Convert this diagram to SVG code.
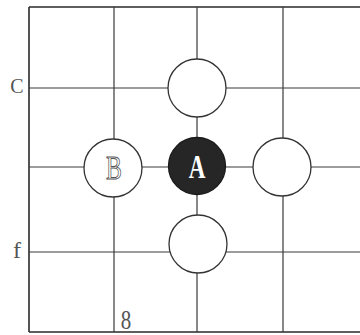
<svg xmlns="http://www.w3.org/2000/svg" width="360" height="335" viewBox="0 0 360 335">
<style>
.grid{stroke:#3a3a3a;stroke-width:1.2;fill:none}
.border{stroke:#2a2a2a;stroke-width:1.6;fill:none}
.stone{fill:#ffffff;stroke:#333;stroke-width:1.3}
.black{fill:#262626;stroke:#1a1a1a;stroke-width:1.3}
.lbl{font-family:"Liberation Serif","DejaVu Serif",serif;fill:#555;font-size:20px}
</style>
<rect width="360" height="335" fill="#ffffff"/>
<g id="connectors">
<path class="border" d="M29,7H360M29,7V332M29,332H360"/>
<path class="grid" d="M29,88H360M29,167H360M29,252H360M114,7V332M197,7V332M283,7V332"/>
</g>
<g id="node-top"><circle class="stone" cx="197" cy="88" r="29"/></g>
<g id="node-B"><circle class="stone" cx="113" cy="168" r="29"/>
<text x="114" y="179" text-anchor="middle" transform="translate(114 0) scale(0.7 1) translate(-114 0)" style="font-family:'Liberation Serif','DejaVu Serif',serif;font-size:34px;fill:#fff;stroke:#555;stroke-width:1">B</text></g>
<g id="node-A"><circle class="black" cx="197" cy="166" r="28.5"/>
<text x="197" y="178" text-anchor="middle" transform="translate(197 0) scale(0.68 1) translate(-197 0)" style="font-family:'Liberation Serif','DejaVu Serif',serif;font-size:34px;font-weight:bold;fill:#fff">A</text></g>
<g id="node-right"><circle class="stone" cx="282" cy="167" r="29"/></g>
<g id="node-bottom"><circle class="stone" cx="198" cy="244" r="29"/></g>
<text class="lbl" x="17" y="93" text-anchor="middle">C</text>
<text class="lbl" x="17" y="258" text-anchor="middle" style="font-size:24px">f</text>
<text class="lbl" x="126" y="329" text-anchor="middle" transform="translate(126 0) scale(0.75 1) translate(-126 0)" style="font-size:28px">8</text>
</svg>
